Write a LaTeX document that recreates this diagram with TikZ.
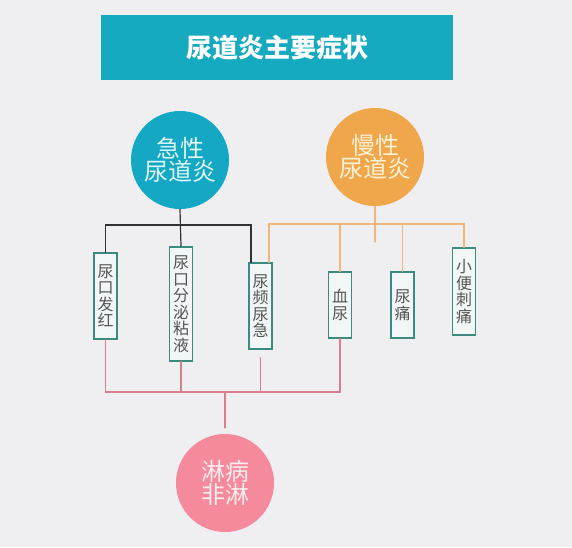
\documentclass[tikz,border=0pt]{standalone}
\usepackage{fontspec}
\newfontfamily\cjk{Noto Sans CJK SC}
\definecolor{bgcol}{RGB}{239,238,241}
\definecolor{titlecol}{RGB}{22,170,192}
\definecolor{acutecol}{RGB}{20,168,197}
\definecolor{chroncol}{RGB}{240,166,74}
\definecolor{pinkcol}{RGB}{244,138,156}
\definecolor{boxcol}{RGB}{58,140,128}
\definecolor{boxfill}{RGB}{243,246,246}
\definecolor{boxtext}{RGB}{85,85,85}
\definecolor{blackln}{RGB}{50,50,50}
\definecolor{orangeln}{RGB}{243,182,121}
\definecolor{pinkln}{RGB}{216,126,142}
\begin{document}
\begin{tikzpicture}[x=1pt,y=-1pt,line cap=round,
	box/.style={draw=boxcol,line width=1.4pt,fill=boxfill,minimum width=23pt,inner sep=0pt,align=center,text=boxtext,font=\cjk\fontsize{16}{16.5}\selectfont},
	bigdot/.style={circle,minimum size=98pt,inner sep=0pt,align=center,font=\cjk\fontsize{24}{21}\selectfont},
	blackline/.style={draw=blackln,line width=1.2pt},
	orangeline/.style={draw=orangeln,line width=1.2pt},
	pinkline/.style={draw=pinkln,line width=1.4pt}]
	
	\fill[bgcol] (0,0) rectangle (572,547);
	\useasboundingbox (0,0) rectangle (572,547);
	
	\node[fill=titlecol,minimum width=352pt,minimum height=65pt,inner sep=0pt,text=white,font=\cjk\bfseries\fontsize{26}{28}\selectfont] (title) at (277,47.5) {尿道炎主要症状};
	
	\node[bigdot,fill=acutecol,text={rgb,255:red,222;green,246;blue,246}] (acute) at (180,160) {急性\\尿道炎};
	\node[bigdot,fill=chroncol,text={rgb,255:red,255;green,241;blue,214}] (chronic) at (375,157) {慢性\\尿道炎};
	\node[bigdot,fill=pinkcol,text={rgb,255:red,255;green,236;blue,238}] (nongo) at (225,483) {淋病\\非淋};
	
	\foreach \n/\x/\y/\h/\t in {b1/105.5/296/86/{尿\\口\\发\\红},b2/181/304/114/{尿\\口\\分\\泌\\粘\\液},b3/260.5/306/86/{尿\\频\\尿\\急},b4/340/305/66/{血\\尿},b5/402.5/305/66/{尿\\痛},b6/464/291.5/87/{小\\便\\刺\\痛}}
	\node[box,minimum height=\h pt] (\n) at (\x,\y) {\t};
	
	\coordinate (ja) at (180,225);
	\coordinate (jb) at (375,224);
	\coordinate (jbend) at (375,242);
	\coordinate (jc) at (225,392);
	
	\draw[blackline] (acute.south) -- (b2.north);
	\draw[blackline] (b1.north) |- (ja) -| ([xshift=-9.5pt]b3.north);
	
	\draw[orangeline] (chronic.south) -- (jbend);
	\draw[orangeline] ([xshift=8.5pt]b3.north) |- (jb) -| (b6.north);
	\foreach \b in {b4,b5}
	\draw[orangeline] (\b.north) -- (\b.north |- jb);
	
	\draw[pinkline] (b1.south) |- (jc) -| (b4.south);
	\draw[pinkline] (b2.south) -- (b2.south |- jc);
	\draw[pinkline] ([yshift=-8pt]b3.south) -- (b3.south |- jc);
	\draw[pinkline,shorten >=6pt] (jc) -- (nongo.north);
\end{tikzpicture}
\end{document}
